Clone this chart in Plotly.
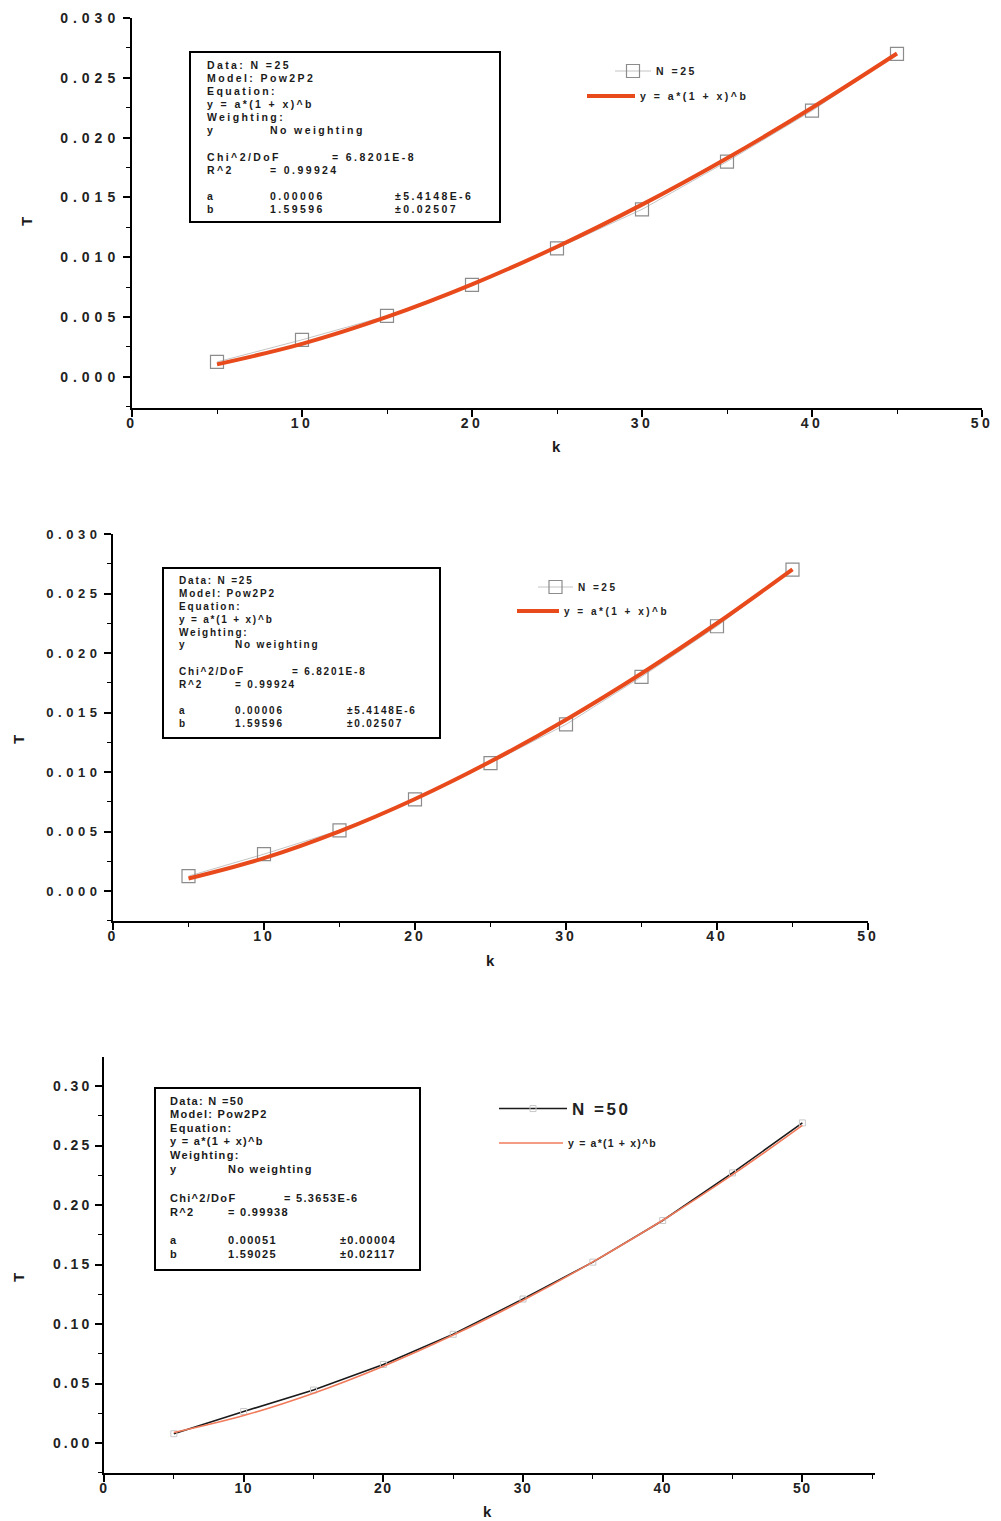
import plotly.graph_objects as go

W, H = 1001, 1521

# ---------------- data ----------------
k_25 = [5, 10, 15, 20, 25, 30, 35, 40, 45]
T_25 = [0.00125, 0.0031, 0.0051, 0.0077, 0.01075, 0.0140, 0.0180, 0.02225, 0.0270]
fit_25 = [0.00105, 0.00276, 0.00501, 0.00773, 0.01088, 0.0144, 0.01828, 0.0225, 0.02703]

k_50 = [5, 10, 15, 20, 25, 30, 35, 40, 45, 50]
T_50 = [0.0078, 0.0265, 0.0445, 0.0660, 0.0914, 0.1210, 0.1520, 0.1870, 0.2270, 0.2690]
fit_50 = [0.0088, 0.0231, 0.0419, 0.0646, 0.0907, 0.1200, 0.1522, 0.1872, 0.2255, 0.2670]

T_TICKS_25 = [0.000, 0.005, 0.010, 0.015, 0.020, 0.025, 0.030]
T_LABELS_25 = ["0.000", "0.005", "0.010", "0.015", "0.020", "0.025", "0.030"]
T_TICKS_50 = [0.00, 0.05, 0.10, 0.15, 0.20, 0.25, 0.30]
T_LABELS_50 = ["0.00", "0.05", "0.10", "0.15", "0.20", "0.25", "0.30"]
K_TICKS = [0, 10, 20, 30, 40, 50]
K_LABELS = ["0", "10", "20", "30", "40", "50"]

LEG_DATA_25 = "N =25"
LEG_DATA_50 = "N =50"
LEG_FIT = "y = a*(1 + x)^b"

STATS_25 = [
    ["Data: N =25"], ["Model: Pow2P2"], ["Equation:"], ["y = a*(1 + x)^b"], ["Weighting:"],
    ["y", "No weighting"], ["Chi^2/DoF", "", "= 6.8201E-8"], ["R^2", "= 0.99924"],
    ["a", "0.00006", "", "±5.4148E-6"], ["b", "1.59596", "", "±0.02507"],
]
STATS_50 = [
    ["Data: N =50"], ["Model: Pow2P2"], ["Equation:"], ["y = a*(1 + x)^b"], ["Weighting:"],
    ["y", "No weighting"], ["Chi^2/DoF", "", "= 5.3653E-6"], ["R^2", "= 0.99938"],
    ["a", "0.00051", "", "±0.00004"], ["b", "1.59025", "", "±0.02117"],
]

FONT = "Liberation Sans"


def px(x):
    return x / W


def py(y):
    return 1 - y / H


def sp(s, ls):
    return f"<span style='letter-spacing:{ls}px'>{s}</span>"


fig = go.Figure()

# ---------------- traces ----------------
ORANGE = "#e84a1c"

panels = [("x", "y"), ("x2", "y2")]
legs = [("legend", "legend2"), ("legend3", "legend4")]
for (xa, ya), (la, lb) in zip(panels, legs):
    fig.add_trace(go.Scatter(
        x=k_25, y=T_25, mode="lines+markers", xaxis=xa, yaxis=ya,
        name=sp(LEG_DATA_25, 2.5), legend=la,
        line=dict(color="#c4c4c4", width=1),
        marker=dict(symbol="square-open", size=13, color="#8c8c8c", line=dict(width=1.2)),
    ))
    fig.add_trace(go.Scatter(
        x=k_25, y=fit_25, mode="lines", xaxis=xa, yaxis=ya,
        name=sp(LEG_FIT, 2.5), legend=lb, line=dict(color=ORANGE, width=4, shape="spline"),
    ))

fig.add_trace(go.Scatter(
    x=k_50, y=T_50, mode="lines+markers", xaxis="x3", yaxis="y3",
    name=sp(LEG_DATA_50, 2.5), legend="legend5",
    line=dict(color="#1a1a1a", width=1.6),
    marker=dict(symbol="square-open", size=6, color="#c8c8c8", line=dict(width=1)),
))
fig.add_trace(go.Scatter(
    x=k_50, y=fit_50, mode="lines", xaxis="x3", yaxis="y3",
    name=sp(LEG_FIT, 1.2), legend="legend6", line=dict(color="#f07a5a", width=1.6, shape="spline"),
))

# ---------------- axes ----------------
def xaxis(dom, rng, anchor, ls):
    return dict(domain=[px(dom[0]), px(dom[1])], range=rng, anchor=anchor, automargin=False,
                showline=True, linecolor="black", linewidth=2, showgrid=False, zeroline=False,
                ticks="outside", ticklen=7, tickwidth=1.5, tickcolor="black", ticklabelstandoff=-6,
                tickvals=K_TICKS, ticktext=[sp(s, ls) for s in K_LABELS],
                tickfont=dict(family=FONT, size=14, color="#222", weight="bold"),
                minor=dict(dtick=5, tick0=0, ticks="outside", ticklen=4, tickwidth=1.2, tickcolor="black"))


def yaxis(dom, rng, anchor, vals, labels, minor, ls, size):
    return dict(domain=[py(dom[0]), py(dom[1])], range=rng, anchor=anchor, automargin=False,
                showline=True, linecolor="black", linewidth=2, showgrid=False, zeroline=False,
                ticks="outside", ticklen=7, tickwidth=1.5, tickcolor="black",
                tickvals=vals, ticktext=[sp(s, ls) for s in labels],
                tickfont=dict(family=FONT, size=size, color="#222", weight="bold"),
                minor=dict(dtick=minor, tick0=0, ticks="outside", ticklen=4, tickwidth=1.2, tickcolor="black"))


fig.update_layout(
    xaxis=xaxis((132, 982), [0, 50], "y", 3.5),
    yaxis=yaxis((408, 18), [-0.0026, 0.030], "x", T_TICKS_25, T_LABELS_25, 0.0025, 5, 14),
    xaxis2=xaxis((113, 868), [0, 50], "y2", 3),
    yaxis2=yaxis((921, 534), [-0.00252, 0.030], "x2", T_TICKS_25, T_LABELS_25, 0.0025, 4.5, 13),
    xaxis3=xaxis((104, 875), [0, 55.2], "y3", 1.5),
    yaxis3=yaxis((1473, 1057), [-0.0252, 0.3244], "x3", T_TICKS_50, T_LABELS_50, 0.025, 3, 14),
)

# ---------------- legends ----------------
def leg(x, y, size, iw=30):
    return dict(x=px(x), y=py(y), xanchor="left", yanchor="middle", bgcolor="rgba(0,0,0,0)",
                borderwidth=0, itemwidth=iw,
                font=dict(family=FONT, size=size, color="#222", weight="bold"))


fig.update_layout(
    showlegend=True,
    legend=leg(610, 71, 10.5, 36), legend2=leg(582, 96, 10.5, 48),
    legend3=leg(533, 587, 10, 35), legend4=leg(512, 611, 10, 42),
    legend5=leg(494, 1109, 17, 68), legend6=leg(494, 1143, 10.5, 64),
)

# ---------------- stats boxes ----------------
boxes = [
    dict(rect=(190, 52, 500, 222), rows=[65, 78, 91, 104, 117, 130, 157, 170, 196, 209],
         cols=[205, 268, 330, 393], size=10.5, ls=2.4, data=STATS_25),
    dict(rect=(163, 568, 440, 738), rows=[580, 593, 606, 619, 632, 645, 671, 684, 710, 723],
         cols=[177, 233, 290, 345], size=10, ls=1.8, data=STATS_25),
    dict(rect=(155, 1088, 420, 1270), rows=[1101, 1114, 1128, 1141, 1155, 1169, 1198, 1212, 1240, 1254],
         cols=[168, 226, 282, 338], size=11, ls=1.3, data=STATS_50),
]
shapes = []
annotations = []
for b in boxes:
    x0, y0, x1, y1 = b["rect"]
    shapes.append(dict(type="rect", xref="paper", yref="paper", x0=px(x0), x1=px(x1), y0=py(y0), y1=py(y1),
                       line=dict(color="black", width=2), fillcolor="rgba(0,0,0,0)"))
    for row, yy in zip(b["data"], b["rows"]):
        for ci, txt in enumerate(row):
            if not txt:
                continue
            annotations.append(dict(xref="paper", yref="paper", x=px(b["cols"][ci]), y=py(yy),
                                    xanchor="left", yanchor="middle", showarrow=False,
                                    text=sp(txt, b["ls"]),
                                    font=dict(family=FONT, size=b["size"], color="#1a1a1a", weight="bold")))

# axis titles
for txt, x, y, ang in [("T", 27, 222, -90), ("k", 556, 446, 0),
                       ("T", 18, 740, -90), ("k", 490, 960, 0),
                       ("T", 18, 1278, -90), ("k", 487, 1511, 0)]:
    annotations.append(dict(xref="paper", yref="paper", x=px(x), y=py(y), xanchor="center", yanchor="middle",
                            showarrow=False, text=txt, textangle=ang,
                            font=dict(family=FONT, size=15, color="#1a1a1a", weight="bold")))

fig.update_layout(
    width=W, height=H, margin=dict(l=0, r=0, t=0, b=0, pad=0, autoexpand=False),
    paper_bgcolor="white", plot_bgcolor="white",
    shapes=shapes, annotations=annotations,
)

fig.write_html("out.html")
